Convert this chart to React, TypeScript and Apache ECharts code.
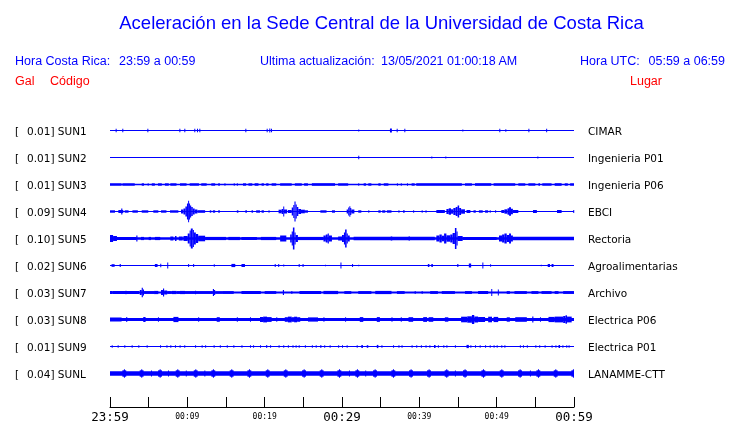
import React, { useEffect, useRef } from "react";
import * as echarts from "echarts";

const TITLE = "Aceleración en la Sede Central de la Universidad de Costa Rica";
const HEADER_BLUE = [
  { text: "Hora Costa Rica:", x: 15, align: "left" },
  { text: "23:59 a 00:59", x: 119, align: "left" },
  { text: "Ultima actualización:", x: 260, align: "left" },
  { text: "13/05/2021 01:00:18 AM", x: 381, align: "left" },
  { text: "Hora UTC:", x: 580, align: "left" },
  { text: "05:59 a 06:59", x: 725, align: "right" },
];
const HEADER_RED = [
  { text: "Gal", x: 15, align: "left" },
  { text: "Código", x: 50, align: "left" },
  { text: "Lugar", x: 662, align: "right" },
];

const CODES = ["SUN1", "SUN2", "SUN3", "SUN4", "SUN5", "SUN6", "SUN7", "SUN8", "SUN9", "SUNL"];
const GAL = [0.01, 0.01, 0.01, 0.09, 0.1, 0.02, 0.03, 0.03, 0.01, 0.04];
const PLACES = [
  "CIMAR", "Ingenieria P01", "Ingenieria P06", "EBCI", "Rectoria",
  "Agroalimentarias", "Archivo", "Electrica P06", "Electrica P01", "LANAMME-CTT",
];

// minutes since 23:59
const TICK_LABELS = ["23:59", "00:09", "00:19", "00:29", "00:39", "00:49", "00:59"];
const MAJOR_TICKS = [0, 3, 6];

// background noise half-amplitude of each trace
const BASE = [0.5, 0.5, 0.7, 0.5, 1.2, 0.5, 1.0, 1.6, 0.6, 2.3];

// envelope segments: [start minute, end minute, half amplitude]
const SUN1 = [
  [0.73, 0.85, 1.7], [1.59, 1.71, 1.7], [4.83, 4.95, 1.7], [8.97, 9.09, 1.7], [9.61, 9.73, 1.7],
  [10.9, 11.02, 1.7], [11.25, 11.37, 1.7], [11.55, 11.67, 1.7], [17.5, 17.62, 1.7], [20.26, 20.38, 1.7],
  [20.6, 20.72, 1.9], [20.82, 20.94, 1.7], [32.1, 32.2, 0.9], [36.2, 36.45, 2], [37.07, 37.19, 1.7],
  [38.06, 38.18, 1.7], [45.56, 45.66, 0.9], [50.34, 50.46, 1.7], [51.12, 51.24, 1.2], [54.1, 54.22, 1.7],
  [56.4, 56.52, 1.7],
];
const SUN2 = [
  [32.1, 32.22, 1.8], [41.55, 41.67, 1], [43.36, 43.48, 1], [55.26, 55.38, 1],
];
const SUN3 = [
  [0, 1.5, 1.2], [1.6, 3.2, 1.2], [4.1, 4.4, 1.2], [4.87, 4.97, 1.2], [5.4, 5.8, 1.2], [6.2, 6.7, 1.2],
  [7.1, 7.6, 1.2], [7.8, 8.6, 1.2], [9.05, 9.9, 1.2], [10.3, 11.5, 1.2], [11.8, 12.5, 1.2], [13.1, 13.6, 1.2],
  [14.0, 14.2, 1.2], [14.8, 14.9, 1.2], [16.0, 16.1, 1.2], [16.4, 16.5, 1.2], [17.2, 17.6, 1.2], [17.9, 18.4, 1.2],
  [18.7, 19.2, 1.2], [19.6, 19.9, 1.2], [20.2, 20.5, 1.2], [20.9, 21.5, 1.2], [22.0, 23.5, 1.2], [23.9, 24.8, 1.2],
  [25.1, 25.6, 1.2], [26.1, 29.1, 1.3], [29.5, 30.8, 1.2], [32.1, 32.2, 1.2], [32.8, 33.1, 1.2], [33.4, 33.8, 1.2],
  [34.7, 35.0, 1.2], [35.4, 36.0, 1.2], [37.1, 37.2, 1.2], [37.6, 37.7, 1.2], [38.4, 38.5, 1.2], [39.0, 39.4, 1.2],
  [39.6, 45.5, 1.3], [45.9, 46.8, 1.2], [47.2, 49.3, 1.3], [49.6, 52.4, 1.3], [52.8, 53.7, 1.2], [54.1, 55.0, 1.2],
  [55.4, 55.6, 1.2], [55.9, 57.1, 1.2], [57.5, 58.4, 1.3], [58.8, 59.2, 1.2], [59.5, 60, 1.2],
];
const SUN4 = [
  [0, 0.65, 1.2], [1.08, 1.72, 1.5], [1.45, 1.6, 3], [1.9, 2.4, 1.2], [2.9, 3.6, 1.2], [4.1, 4.95, 1.2],
  [5.6, 6.25, 1.2], [6.6, 7.3, 1.2], [7.76, 8.84, 1.2],
  [9.18, 9.5, 2], [9.5, 9.75, 3], [9.75, 9.95, 5], [9.95, 10.1, 8], [10.1, 10.22, 10.8], [10.22, 10.35, 8],
  [10.35, 10.5, 6], [10.5, 10.7, 4.5], [10.7, 10.95, 3], [10.95, 11.3, 2], [11.3, 12.3, 1.3],
  [12.9, 13.1, 1.2], [13.3, 13.6, 1.2],
  [14.0, 14.2, 1.2], [16.4, 16.6, 1.2], [17.5, 17.7, 1.2], [18.3, 18.5, 1.2], [18.9, 19.4, 1.2], [19.6, 19.9, 1.2],
  [20.5, 20.6, 1.2],
  [21.8, 22.2, 1.8], [22.2, 22.4, 2.5], [22.4, 22.5, 5], [22.5, 22.9, 2], [23.0, 23.5, 1.5],
  [23.5, 23.7, 4], [23.7, 23.85, 6.5], [23.85, 24.0, 10], [24.0, 24.15, 7], [24.15, 24.35, 4.5],
  [24.35, 24.7, 2.5], [24.7, 25.2, 1.8], [25.2, 25.6, 1.2],
  [27.2, 28.0, 1.2], [28.7, 29.1, 1.2],
  [30.6, 30.8, 2], [30.8, 30.95, 4], [30.95, 31.05, 5.3], [31.05, 31.2, 3.5], [31.2, 31.6, 2],
  [32.1, 32.5, 1.2], [33.4, 33.5, 1.2], [34.7, 35.0, 1.2], [35.2, 35.6, 1.2], [35.8, 36.4, 1.2], [37.3, 37.4, 1.2],
  [37.9, 38.1, 1.2], [39.2, 39.3, 1.2], [40.3, 40.4, 1.2], [40.8, 40.9, 1.2],
  [42.2, 43.3, 1.5], [43.5, 43.8, 2.5], [43.8, 44.1, 3.2], [44.1, 44.4, 2.2], [44.4, 44.7, 3.5],
  [44.7, 44.95, 4.5], [44.95, 45.15, 6], [45.15, 45.4, 3.5], [45.4, 45.9, 2.2], [46.1, 46.6, 1.5],
  [47.0, 47.3, 1.2], [47.7, 48.2, 1.2], [48.5, 48.9, 1.2], [49.1, 49.2, 1.2], [49.8, 49.9, 1.2],
  [50.6, 51.0, 1.5], [51.0, 51.4, 2.2], [51.4, 51.6, 3.2], [51.6, 51.85, 4.3], [51.85, 52.1, 2.8],
  [52.1, 52.8, 1.5],
  [54.7, 55.2, 1.5], [57.8, 58.4, 1.5], [59.9, 60, 1.5],
];
const SUN5 = [
  [0, 0.4, 3.5], [0.4, 0.9, 2.5], [0.9, 3.4, 1.6], [3.4, 3.55, 3], [4.0, 4.4, 1.6], [5.0, 5.3, 1.6],
  [5.8, 6.5, 1.6], [7.8, 8.2, 2], [8.4, 8.6, 2.5], [8.9, 9.4, 2], [9.5, 10.05, 2.5],
  [10.05, 10.3, 5], [10.3, 10.45, 8], [10.45, 10.7, 10], [10.7, 10.85, 8.5], [10.85, 11.1, 6],
  [11.1, 11.4, 4.5], [11.4, 12.3, 2.8],
  [12.3, 15.0, 1.6], [15.3, 16.8, 1.6], [17.0, 19.0, 1.5], [19.5, 21.5, 1.6],
  [22.0, 22.8, 3], [23.3, 23.5, 4], [23.5, 23.65, 7], [23.65, 23.85, 11], [23.85, 24.0, 6],
  [24.0, 24.3, 3.5], [24.3, 27.6, 1.6],
  [27.6, 27.9, 3], [27.9, 28.15, 4], [28.15, 28.3, 5], [28.3, 28.7, 3],
  [29.5, 30.0, 2], [30.0, 30.25, 3.5], [30.25, 30.4, 6], [30.4, 30.6, 9], [30.6, 30.75, 5], [30.75, 31.0, 3],
  [31.5, 42.0, 1.7], [36.3, 36.5, 2], [38.6, 38.8, 2],
  [42.2, 42.6, 3], [42.6, 42.9, 4], [42.9, 43.2, 2.8], [43.2, 43.5, 5], [43.5, 44.0, 3.2],
  [44.0, 44.3, 4], [44.3, 44.6, 5.5], [44.6, 44.8, 10.5], [44.8, 44.95, 7], [44.95, 45.6, 2.5],
  [45.6, 50.0, 1.6], [50.3, 50.7, 3], [50.7, 51.0, 4], [51.0, 51.3, 5], [51.3, 51.6, 3.5], [51.6, 51.85, 5],
  [51.85, 52.1, 3], [52.1, 60, 1.7],
];
const SUN6 = [
  [0.2, 0.6, 1.3], [1.25, 1.4, 1.5], [5.8, 6.15, 1.5], [6.5, 6.6, 1.7], [7.4, 7.48, 3], [10.1, 10.2, 1.5],
  [10.75, 10.85, 1.5], [13.42, 13.5, 1.2], [15.7, 16.2, 1.6], [17.0, 17.45, 1.5], [21.3, 21.4, 1.5],
  [21.75, 21.85, 1.5], [22.4, 22.45, 1], [24.4, 24.5, 1.5], [24.9, 25.0, 1.5], [27.8, 27.85, 0.8],
  [29.8, 29.9, 3], [31.3, 31.4, 1.5], [32.1, 32.15, 0.8], [41.1, 41.3, 1.5], [41.55, 41.75, 1.5],
  [44.9, 45.05, 1.5], [46.4, 46.7, 2], [48.15, 48.25, 3], [49.15, 49.25, 1.3], [55.7, 55.75, 0.8],
  [56.6, 56.9, 1.5], [57.1, 57.35, 1.5],
];
const SUN7 = [
  [0, 0.3, 1.5], [0.3, 3.8, 1.4], [2.0, 2.1, 1.7], [3.85, 4.1, 2.5], [4.1, 4.25, 4.7], [4.25, 4.4, 3],
  [4.4, 5.7, 1.4], [5.7, 6.25, 1.6], [6.6, 6.85, 2.5], [6.85, 7.0, 4], [7.0, 7.4, 2], [7.4, 8.0, 1.4],
  [8.0, 8.6, 1.6], [8.6, 9.05, 1.4], [9.05, 9.7, 1.6], [9.7, 13.3, 1.4], [11.0, 11.1, 1.7],
  [13.3, 13.45, 3.5], [13.45, 13.6, 2.5], [13.6, 14.5, 1.3],
  [14.5, 16.0, 1.4], [17.0, 19.5, 1.4], [20.0, 21.5, 1.4], [22.35, 22.5, 2.5], [23.45, 23.55, 1.6],
  [24.5, 27.3, 1.5], [27.6, 29.5, 1.6], [30.3, 31.2, 1.4], [32.1, 33.8, 1.4], [34.3, 36.4, 1.6],
  [37.1, 38.1, 1.4], [39.4, 39.5, 1.4], [40.3, 40.4, 1.4], [41.4, 42.4, 1.4], [42.9, 44.6, 1.4],
  [45.9, 46.8, 1.4], [47.6, 48.9, 1.5], [49.3, 49.4, 3.5], [50.15, 50.25, 3], [51.3, 51.7, 1.4],
  [52.3, 53.9, 1.4], [54.5, 55.4, 1.4], [55.8, 57.1, 1.4], [57.5, 58.0, 1.4], [58.6, 60, 1.4],
];
const SUN8 = [
  [0, 1.5, 2], [2.1, 2.2, 2.5], [4.3, 4.6, 2.5], [6.2, 6.3, 2.2], [8.2, 8.85, 2.6], [11.4, 11.5, 2.2],
  [13.8, 14.2, 2.3], [16.4, 16.5, 2.2], [18.1, 18.2, 2.2], [19.4, 19.8, 2.5], [19.8, 20.3, 2.9],
  [20.3, 20.9, 2.4], [21.5, 21.6, 2.2],
  [22.6, 23.0, 2.3], [23.0, 23.5, 2.9], [23.5, 23.8, 2.3], [23.8, 24.2, 2.8], [24.2, 24.6, 2.3],
  [25.6, 26.9, 2.1], [27.6, 27.7, 2.2],
  [30.4, 30.5, 2.2], [32.3, 32.75, 2.4], [34.5, 34.9, 2.4], [36.4, 36.5, 2.2], [37.6, 37.7, 2.2],
  [38.6, 39.2, 2.3], [40.5, 41.0, 2.4], [41.2, 41.8, 2.3], [43.3, 43.75, 2.2], [45.4, 46.2, 2.8],
  [46.2, 46.8, 3.2], [46.8, 47.1, 4.5], [47.1, 47.6, 3], [47.6, 48.5, 2.5], [48.9, 49.4, 2.8],
  [49.6, 50.2, 2.6], [51.3, 51.7, 2.2], [52.4, 53.9, 2.3], [54.6, 54.75, 3], [55.6, 55.7, 2.2],
  [56.7, 57.5, 2.6], [57.5, 58.6, 2.9], [58.6, 58.9, 3.5], [58.9, 59.1, 4.2], [59.1, 59.7, 2.9],
];
const SUN9 = [
  [0.22, 0.32, 1.3], [0.99, 1.09, 1.3], [1.85, 1.95, 1.3], [2.8, 2.9, 1.3], [3.66, 3.76, 1.3], [4.74, 4.84, 1.3],
  [6.47, 6.57, 1.3], [7.3, 7.4, 1.3], [7.8, 7.9, 1.3], [8.4, 8.5, 1.3], [9.0, 9.1, 1.3], [9.6, 9.7, 1.3],
  [11.0, 11.1, 1.3], [11.85, 11.95, 1.3], [12.3, 12.4, 1.3], [13.4, 13.5, 1.3], [14.2, 14.3, 1.3],
  [15.1, 15.2, 1.3], [15.95, 16.05, 1.3], [17.0, 17.1, 1.3], [18.1, 18.2, 1.3], [18.5, 18.6, 1.3],
  [19.4, 19.5, 1.3], [20.2, 20.3, 1.6], [20.7, 20.8, 1.3], [21.8, 21.9, 1.3], [22.4, 22.5, 1.3],
  [23.0, 23.1, 1.3], [23.6, 23.7, 1.3], [24.0, 24.1, 1.3], [24.4, 24.5, 1.3], [25.2, 25.3, 1.3],
  [26.1, 26.2, 1.3], [26.6, 26.7, 1.3], [27.2, 27.3, 1.6], [27.7, 27.8, 1.3], [28.4, 28.5, 1.3],
  [29.5, 29.6, 1.3], [30.0, 30.1, 1.3], [30.6, 30.7, 1.3], [31.9, 32.0, 1.3], [32.5, 32.7, 1.5],
  [33.2, 33.4, 1.3], [34.5, 34.7, 1.6], [35.1, 35.2, 1.3], [36.6, 36.7, 1.3], [37.3, 37.4, 1.3],
  [37.7, 37.8, 1.3], [39.0, 39.1, 1.3], [39.6, 39.7, 1.3], [40.2, 40.3, 1.3], [40.8, 40.9, 1.3],
  [41.3, 41.4, 1.3], [41.9, 42.1, 1.5], [42.4, 42.5, 1.3], [43.1, 43.2, 1.3], [43.5, 43.6, 1.3],
  [44.6, 44.7, 1.3], [46.1, 46.4, 1.6], [46.6, 46.7, 1.3], [47.2, 47.3, 1.3], [47.8, 47.9, 1.3],
  [48.5, 48.6, 1.3], [49.1, 49.2, 1.3], [49.6, 49.7, 1.3], [50.0, 50.1, 1.3], [50.6, 50.7, 1.3],
  [51.0, 51.1, 1.3], [53.0, 53.1, 1.3], [53.4, 53.5, 1.3], [53.9, 54.0, 1.3], [55.0, 55.1, 1.3],
  [55.5, 55.6, 1.3], [56.2, 56.3, 1.3], [57.1, 57.2, 1.3], [57.6, 57.7, 1.3], [58.0, 58.2, 1.5],
  [58.5, 58.6, 1.3], [59.0, 59.1, 1.3], [59.3, 59.4, 1.3],
];
const SUNL = [
  [1.6, 2.1, 3.2], [1.8, 1.9, 4.2], [3.84, 4.34, 3.2], [4.04, 4.14, 4.2], [6.22, 6.72, 3.2], [6.42, 6.52, 4.2],
  [8.5, 9.0, 3.2], [8.7, 8.8, 4.2], [10.83, 11.33, 3.2], [11.03, 11.13, 4.2], [13.11, 13.61, 3.2],
  [13.31, 13.41, 4.2], [15.48, 15.98, 3.2], [15.68, 15.78, 4.2], [17.77, 18.27, 3.2], [17.97, 18.07, 4.2],
  [20.14, 20.64, 3.2], [20.34, 20.44, 4.2], [22.47, 22.97, 3.2], [22.67, 22.77, 4.2], [24.84, 25.34, 3.2],
  [25.04, 25.14, 4.2], [27.12, 27.62, 3.2], [27.32, 27.42, 4.2], [29.41, 29.91, 3.2], [29.61, 29.71, 4.2],
  [31.73, 32.23, 3.2], [31.93, 32.03, 4.2], [34.02, 34.52, 3.2], [34.22, 34.32, 4.2], [36.39, 36.89, 3.2],
  [36.59, 36.69, 4.2], [38.67, 39.17, 3.2], [38.87, 38.97, 4.2], [41.0, 41.5, 3.2], [41.2, 41.3, 4.2],
  [43.28, 43.78, 3.2], [43.48, 43.58, 4.2], [45.65, 46.15, 3.2], [45.85, 45.95, 4.2], [48.03, 48.53, 3.2],
  [48.23, 48.33, 4.2], [50.4, 50.9, 3.2], [50.6, 50.7, 4.2], [52.77, 53.27, 3.2], [52.97, 53.07, 4.2],
  [55.14, 55.64, 3.2], [55.34, 55.44, 4.2], [57.38, 57.88, 3.2], [57.58, 57.68, 4.2], [59.66, 60, 3.2],
  [59.86, 59.96, 4.2], [5.3, 5.4, 2.9], [7.5, 7.6, 2.9], [9.8, 9.9, 2.9], [12.2, 12.3, 2.9],
  [30.9, 31.0, 2.9], [33.0, 33.1, 2.9], [44.6, 44.7, 2.9], [54.3, 54.4, 2.9],
];
const TRACES = [SUN1, SUN2, SUN3, SUN4, SUN5, SUN6, SUN7, SUN8, SUN9, SUNL];

const BLUE = "#0000ff";

export default function App() {
  const ref = useRef<HTMLDivElement>(null);
  useEffect(() => {
    document.body.style.margin = "0";
    const chart = echarts.init(ref.current!, undefined, { renderer: "svg" });

    const items: number[][] = [];
    TRACES.forEach((runs, row) => {
      items.push([0, 60, row, BASE[row]]);
      runs.forEach((r) => items.push([r[0], r[1], row, r[2]]));
    });

    const graphics: any[] = [
      {
        type: "text", x: 381.5, y: 22,
        style: { text: TITLE, fill: BLUE, fontSize: 18.5, fontFamily: "Liberation Sans", align: "center", verticalAlign: "middle" },
      },
      ...HEADER_BLUE.map((h) => ({
        type: "text", x: h.x, y: 61,
        style: { text: h.text, fill: BLUE, fontSize: 12.5, fontFamily: "Liberation Sans", align: h.align, verticalAlign: "middle" },
      })),
      ...HEADER_RED.map((h) => ({
        type: "text", x: h.x, y: 81,
        style: { text: h.text, fill: "#ff0000", fontSize: 12.5, fontFamily: "Liberation Sans", align: h.align, verticalAlign: "middle" },
      })),
    ];

    const labelFont = { fontSize: 10.5, fontFamily: "DejaVu Sans", color: "#000" };

    chart.setOption({
      animation: false,
      graphic: graphics,
      grid: { left: 110, right: 166, top: 117, height: 270, containLabel: false },
      xAxis: {
        type: "value", min: 0, max: 60, interval: 5,
        offset: 20,
        splitLine: { show: false },
        axisLine: { show: true, lineStyle: { color: "#000", width: 1 } },
        axisTick: { show: true, inside: true, length: 10, lineStyle: { color: "#000", width: 1 } },
        axisLabel: {
          margin: 1,
          showMinLabel: true, showMaxLabel: true,
          formatter: (v: number) => {
            if (v % 10 !== 0) return "";
            const i = v / 10;
            return MAJOR_TICKS.includes(i) ? `{big|${TICK_LABELS[i]}}` : `{small|${TICK_LABELS[i]}}`;
          },
          rich: {
            big: { fontSize: 12.5, fontFamily: "DejaVu Sans Mono", color: "#000", lineHeight: 16, verticalAlign: "middle" },
            small: { fontSize: 8, fontFamily: "DejaVu Sans Mono", color: "#000", lineHeight: 16, verticalAlign: "middle" },
          },
        },
      },
      yAxis: [
        {
          type: "category", data: CODES, inverse: true, position: "left",
          axisLine: { show: false }, axisTick: { show: false }, splitLine: { show: false },
          axisLabel: {
            margin: 95, align: "left",
            formatter: (value: string, index: number) => `{b|[}{v|${GAL[index].toFixed(2)}] ${value}}`,
            rich: { b: { ...labelFont, width: 12 }, v: { ...labelFont } },
          },
        },
        {
          type: "category", data: CODES, inverse: true, position: "right",
          axisLine: { show: false }, axisTick: { show: false }, splitLine: { show: false },
          axisLabel: {
            margin: 14, align: "left", ...labelFont,
            formatter: (_v: string, index: number) => PLACES[index],
          },
        },
      ],
      series: [
        {
          type: "custom",
          xAxisIndex: 0, yAxisIndex: 0,
          encode: { x: [0, 1], y: 2 },
          data: items,
          silent: true,
          renderItem: (params: any, api: any) => {
            const p0 = api.coord([api.value(0), api.value(2)]);
            const p1 = api.coord([api.value(1), api.value(2)]);
            const amp = api.value(3);
            const w = Math.max(p1[0] - p0[0], 1);
            return {
              type: "rect",
              shape: { x: p0[0], y: p0[1] - amp, width: w, height: amp * 2 },
              style: { fill: BLUE },
            };
          },
        },
      ],
    });
    return () => chart.dispose();
  }, []);
  return <div ref={ref} style={{ position: "fixed", left: 0, top: 0, width: 740, height: 423 }} />;
}
